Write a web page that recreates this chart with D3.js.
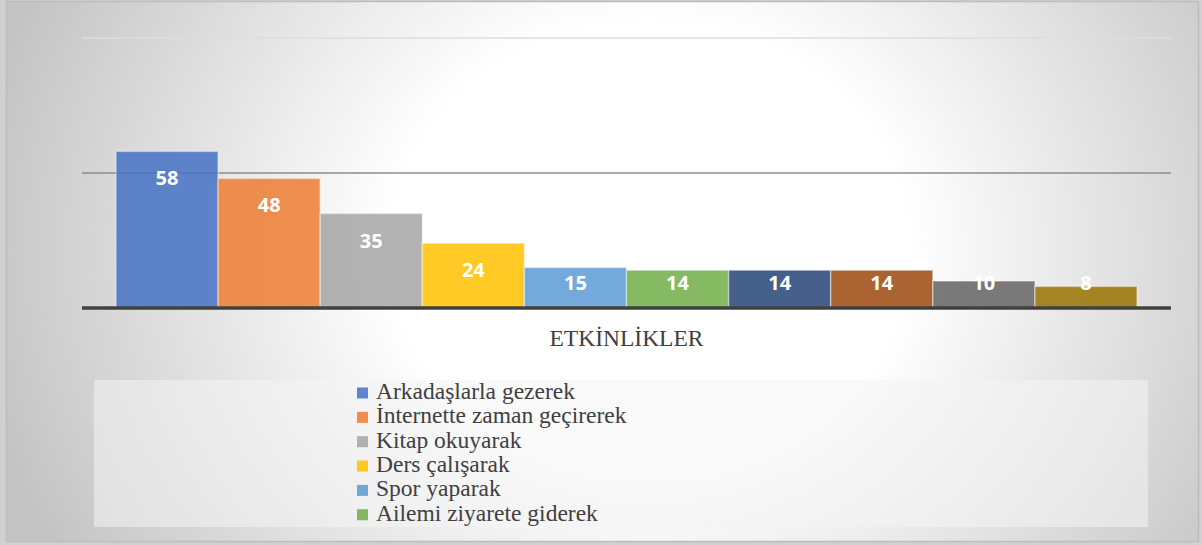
<!DOCTYPE html>
<html lang="tr">
<head>
  <meta charset="utf-8">
  <script src="https://d3js.org/d3.v7.min.js"></script>
  <style>
    body { margin: 0; background: #d0d0d0; }
    .serif { font-family: "Liberation Serif", "Times New Roman", Tinos, "DejaVu Serif", serif; }
  </style>
</head>
<body>
  <script>
    // data
    const category = "ETKİNLİKLER";
    const values = [58, 48, 35, 24, 15, 14, 14, 14, 10, 8];
    const colors = ["#4472C4", "#ED7D31", "#A5A5A5", "#FFC000", "#5B9BD5",
                    "#70AD47", "#264478", "#9E480E", "#636363", "#997300"];
    // only the first six legend rows are visible in the box
    const legendLabels = ["Arkadaşlarla gezerek", "İnternette zaman geçirerek", "Kitap okuyarak",
                          "Ders çalışarak", "Spor yaparak", "Ailemi ziyarete giderek"];
    const yTicks = [0, 50, 100];

    const width = 1202, height = 545;
    const plot = { left: 82, right: 1171, top: 38, bottom: 308 };

    const svg = d3.select("body").append("svg")
      .attr("width", width).attr("height", height);

    // background gradient
    const defs = svg.append("defs");
    const grad = defs.append("radialGradient")
      .attr("id", "bg")
      .attr("gradientUnits", "userSpaceOnUse")
      .attr("cx", 650).attr("cy", 250).attr("r", 680)
      .attr("gradientTransform", "translate(650,250) scale(1,0.882) translate(-650,-250)");
    grad.append("stop").attr("offset", 0).attr("stop-color", "#ffffff");
    grad.append("stop").attr("offset", 0.38).attr("stop-color", "#ffffff");
    grad.append("stop").attr("offset", 0.96).attr("stop-color", "#c8c8c8");
    grad.append("stop").attr("offset", 1).attr("stop-color", "#c4c4c4");

    svg.append("rect")
      .attr("x", 6.5).attr("y", 1.5).attr("width", 1192).attr("height", 540)
      .attr("fill", "url(#bg)")
      .attr("stroke", "#bdbdbd").attr("stroke-width", 1.5);

    // scales
    const x0 = d3.scaleBand().domain([category])
      .range([plot.left, plot.right]).paddingInner(0).paddingOuter(0.0333);
    const x1 = d3.scaleBand().domain(d3.range(values.length))
      .range([0, x0.bandwidth()]).padding(0);
    const y = d3.scaleLinear().domain([0, 100]).range([plot.bottom, plot.top]);

    // gridlines
    svg.append("g").selectAll("line")
      .data(yTicks.filter(d => d > 0))
      .join("line")
      .attr("x1", plot.left).attr("x2", plot.right)
      .attr("y1", d => y(d)).attr("y2", d => y(d))
      .attr("stroke", d => d === 100 ? "#dedede" : "#8c8c8c")
      .attr("stroke-width", 1.6);

    // bars
    const g = svg.append("g").attr("transform", `translate(${x0(category)},0)`);
    g.selectAll("rect")
      .data(values)
      .join("rect")
      .attr("x", (d, i) => x1(i))
      .attr("y", d => y(d))
      .attr("width", x1.bandwidth())
      .attr("height", d => y(0) - y(d))
      .attr("fill", (d, i) => colors[i])
      .attr("fill-opacity", 0.85)
      .attr("stroke", "#ffffff")
      .attr("stroke-opacity", 0.4)
      .attr("stroke-width", 1.5);

    // value labels (inside end, kept above the axis)
    g.selectAll("text")
      .data(values)
      .join("text")
      .attr("x", (d, i) => x1(i) + x1.bandwidth() / 2)
      .attr("y", d => Math.min(y(d) + 34, y(0) - 18))
      .attr("text-anchor", "middle")
      .attr("fill", "#ffffff")
      .style("font-family", "'Open Sans', sans-serif")
      .style("font-weight", 700)
      .style("font-size", "20px")
      .text(d => d);

    // category axis line
    svg.append("line")
      .attr("x1", plot.left).attr("x2", plot.right)
      .attr("y1", y(0)).attr("y2", y(0))
      .attr("stroke", "#404040").attr("stroke-width", 3.5);

    // axis title
    svg.append("text")
      .attr("class", "serif")
      .attr("x", (plot.left + plot.right) / 2)
      .attr("y", 345.5)
      .attr("text-anchor", "middle")
      .attr("fill", "#404040")
      .style("font-size", "23.5px")
      .text(category);

    // legend
    const legend = svg.append("g");
    legend.append("rect")
      .attr("x", 94).attr("y", 380).attr("width", 1054).attr("height", 147)
      .attr("fill", "#f4f4f4").attr("fill-opacity", 0.55);

    const rows = legend.selectAll("g.row")
      .data(legendLabels)
      .join("g")
      .attr("class", "row")
      .attr("transform", (d, i) => `translate(357,${399 + i * 24.35})`);
    rows.append("rect")
      .attr("x", 0).attr("y", -11.5).attr("width", 11).attr("height", 11)
      .attr("fill", (d, i) => colors[i]).attr("fill-opacity", 0.85);
    rows.append("text")
      .attr("class", "serif")
      .attr("x", 19).attr("y", 0)
      .attr("fill", "#404040")
      .style("font-size", "23.5px")
      .text(d => d);
  </script>
</body>
</html>
